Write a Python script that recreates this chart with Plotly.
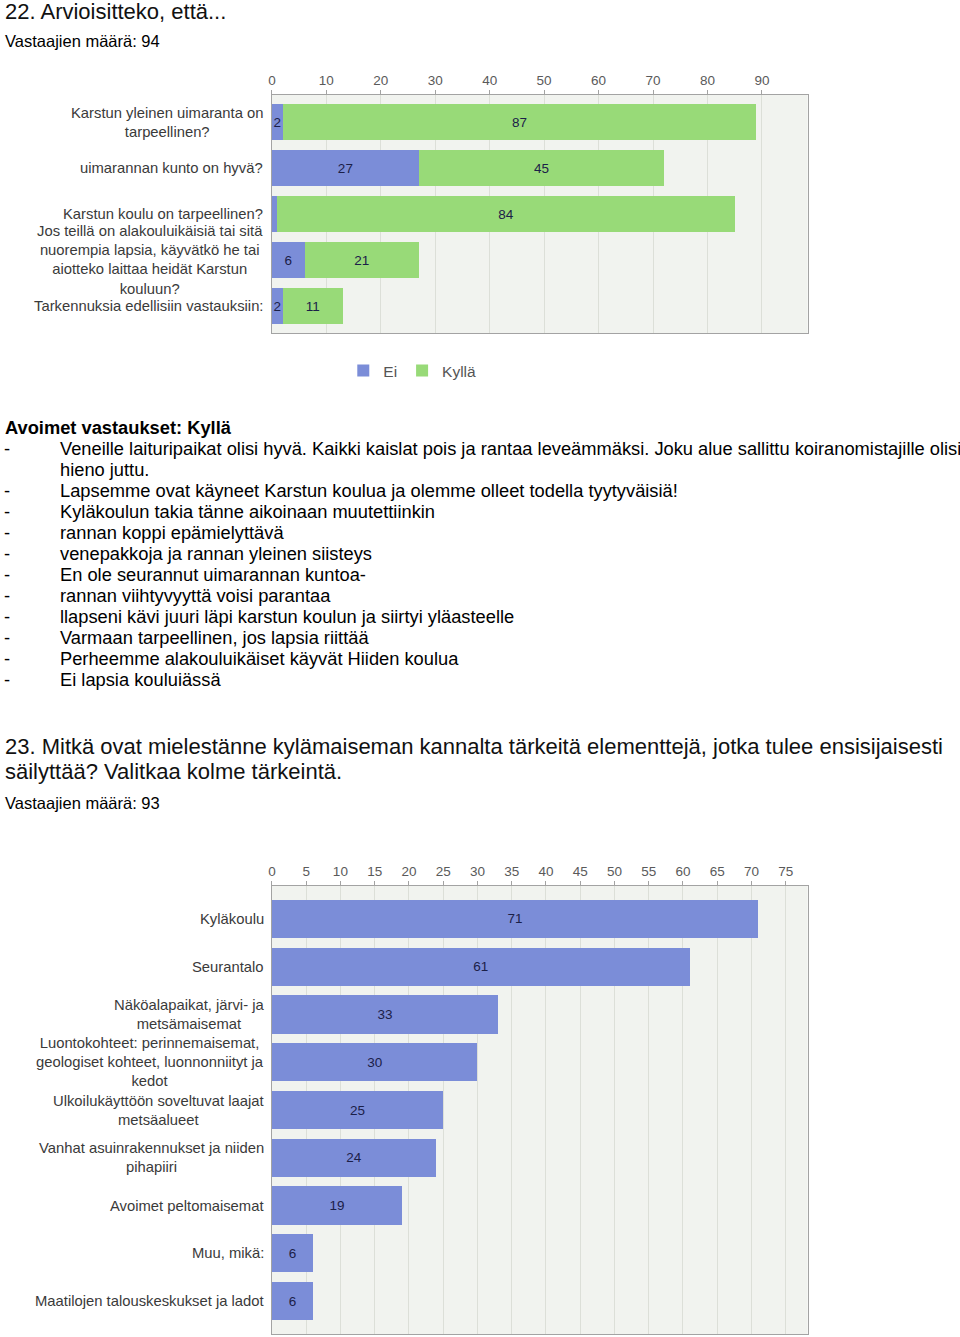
import plotly.graph_objects as go

W, H = 960, 1337
FONT = "Liberation Sans"

# ---------------- Data: question 22 ----------------
q22_title = "22. Arvioisitteko, että..."
q22_respondents = "Vastaajien määrä: 94"
q22_categories = [
    "Karstun yleinen uimaranta on<br>tarpeellinen?",
    "uimarannan kunto on hyvä?",
    "Karstun koulu on tarpeellinen?",
    "Jos teillä on alakouluikäisiä tai sitä<br>nuorempia lapsia, käyvätkö he tai<br>aiotteko laittaa heidät Karstun<br>kouluun?",
    "Tarkennuksia edellisiin vastauksiin:",
]
q22_ei = [2, 27, 1, 6, 2]
q22_kylla = [87, 45, 84, 21, 11]
q22_ticks = [0, 10, 20, 30, 40, 50, 60, 70, 80, 90]
q22_series_names = ["Ei", "Kyllä"]

open_header = "Avoimet vastaukset: Kyllä"
open_answers = [
    "Veneille laituripaikat olisi hyvä. Kaikki kaislat pois ja rantaa leveämmäksi. Joku alue sallittu koiranomistajille olisi",
    "hieno juttu.",
    "Lapsemme ovat käyneet Karstun koulua ja olemme olleet todella tyytyväisiä!",
    "Kyläkoulun takia tänne aikoinaan muutettiinkin",
    "rannan koppi epämielyttävä",
    "venepakkoja ja rannan yleinen siisteys",
    "En ole seurannut uimarannan kuntoa-",
    "rannan viihtyvyyttä voisi parantaa",
    "llapseni kävi juuri läpi karstun koulun ja siirtyi yläasteelle",
    "Varmaan tarpeellinen, jos lapsia riittää",
    "Perheemme alakouluikäiset käyvät Hiiden koulua",
    "Ei lapsia kouluiässä",
]
open_bullets = [True, False, True, True, True, True, True, True, True, True, True, True]

# ---------------- Data: question 23 ----------------
q23_title_lines = [
    "23. Mitkä ovat mielestänne kylämaiseman kannalta tärkeitä elementtejä, jotka tulee ensisijaisesti",
    "säilyttää? Valitkaa kolme tärkeintä.",
]
q23_respondents = "Vastaajien määrä: 93"
q23_categories = [
    "Kyläkoulu",
    "Seurantalo",
    "Näköalapaikat, järvi- ja<br>metsämaisemat",
    "Luontokohteet: perinnemaisemat,<br>geologiset kohteet, luonnonniityt ja<br>kedot",
    "Ulkoilukäyttöön soveltuvat laajat<br>metsäalueet",
    "Vanhat asuinrakennukset ja niiden<br>pihapiiri",
    "Avoimet peltomaisemat",
    "Muu, mikä:",
    "Maatilojen talouskeskukset ja ladot",
]
q23_values = [71, 61, 33, 30, 25, 24, 19, 6, 6]
q23_ticks = [0, 5, 10, 15, 20, 25, 30, 35, 40, 45, 50, 55, 60, 65, 70, 75]

BLUE = "#7b8dd8"
GREEN = "#98da78"
BAR_TEXT = "#1b2048"
LABEL_SIZE = 14.8


def py(ypx):
    return 1 - ypx / H


def px(xpx):
    return xpx / W


def bar_labels(vals):
    return [str(v) if v > 1 else "" for v in vals]


fig = go.Figure()

fig.add_trace(go.Bar(
    y=q22_categories, x=q22_ei, name=q22_series_names[0], orientation="h",
    marker=dict(color=BLUE, line=dict(width=0)),
    text=bar_labels(q22_ei), textposition="inside", insidetextanchor="middle",
    textangle=0, constraintext="none",
    textfont=dict(family=FONT, size=13.5, color=BAR_TEXT),
    xaxis="x", yaxis="y", hoverinfo="skip",
))
fig.add_trace(go.Bar(
    y=q22_categories, x=q22_kylla, name=q22_series_names[1], orientation="h",
    marker=dict(color=GREEN, line=dict(width=0)),
    text=bar_labels(q22_kylla), textposition="inside", insidetextanchor="middle",
    textangle=0, constraintext="none",
    textfont=dict(family=FONT, size=13.5, color=BAR_TEXT),
    xaxis="x", yaxis="y", hoverinfo="skip",
))
fig.add_trace(go.Bar(
    y=q23_categories, x=q23_values, name="", orientation="h", showlegend=False,
    marker=dict(color=BLUE, line=dict(width=0)),
    text=bar_labels(q23_values), textposition="inside", insidetextanchor="middle",
    textangle=0, constraintext="none",
    textfont=dict(family=FONT, size=13.5, color=BAR_TEXT),
    xaxis="x2", yaxis="y2", hoverinfo="skip",
))

xdom = [px(269), px(807)]
common_x = dict(
    side="top", showgrid=True, gridcolor="#dcdfd8", gridwidth=1,
    showline=True, linecolor="#a3a3a3", linewidth=1, mirror=True,
    ticks="outside", ticklen=4, tickcolor="#a3a3a3",
    tickfont=dict(family=FONT, size=13.5, color="#5a5a5a"),
    zeroline=False, fixedrange=True, domain=xdom,
)
common_y = dict(
    type="category", autorange=False, showgrid=False, showticklabels=False,
    ticks="", showline=True, linecolor="#a3a3a3", linewidth=1, mirror=True,
    zeroline=False, fixedrange=True,
)

fig.update_layout(
    width=W, height=H, autosize=False,
    margin=dict(l=0, r=0, t=0, b=0, pad=0),
    paper_bgcolor="white", plot_bgcolor="#f1f3ef",
    barmode="stack", bargap=0.2,
    font=dict(family=FONT, color="#333333"),
    xaxis=dict(common_x, anchor="y", range=[0, 98.4], tickvals=q22_ticks),
    yaxis=dict(common_y, anchor="x", domain=[py(333), py(95)],
               categoryarray=q22_categories, range=[4.587, -0.587]),
    xaxis2=dict(common_x, anchor="y2", range=[0, 78.2], tickvals=q23_ticks),
    yaxis2=dict(common_y, anchor="x2", domain=[py(1334), py(886)],
                categoryarray=q23_categories, range=[8.69, -0.69]),
    legend=dict(orientation="h", traceorder="normal",
                x=px(410), xanchor="center", y=py(371), yanchor="middle",
                font=dict(family=FONT, size=15.5, color="#555555"),
                itemwidth=30, tracegroupgap=0, bgcolor="rgba(0,0,0,0)"),
    showlegend=True,
)

annotations = []

# category labels (centre aligned lines, right anchored box)
for i, c in enumerate(q22_categories):
    annotations.append(dict(xref="paper", yref="y", x=px(262), y=i, text=c, showarrow=False,
                            xanchor="right", yanchor="middle", align="center",
                            font=dict(family=FONT, size=LABEL_SIZE, color="#3a3a3a")))
for i, c in enumerate(q23_categories):
    annotations.append(dict(xref="paper", yref="y2", x=px(263), y=i, text=c, showarrow=False,
                            xanchor="right", yanchor="middle", align="center",
                            font=dict(family=FONT, size=LABEL_SIZE, color="#3a3a3a")))


def doc_text(x, y, text, size, bold=False, color="#000000"):
    t = f"<b>{text}</b>" if bold else text
    annotations.append(dict(xref="paper", yref="paper", x=px(x), y=py(y), text=t,
                            showarrow=False, xanchor="left", yanchor="middle", align="left",
                            font=dict(family=FONT, size=size, color=color)))


doc_text(-1, 12, q22_title, 22, color="#111111")
doc_text(-1, 41, q22_respondents, 16.5)
doc_text(-1, 427, open_header, 18.3, bold=True)
for k, (line, bullet) in enumerate(zip(open_answers, open_bullets)):
    yy = 448 + 21 * k
    if bullet:
        doc_text(-2, yy, "-", 18.3)
    doc_text(54, yy, line, 18.3)
doc_text(-1, 746, q23_title_lines[0], 22, color="#111111")
doc_text(-1, 771, q23_title_lines[1], 22, color="#111111")
doc_text(-1, 803, q23_respondents, 16.5)

fig.update_layout(annotations=annotations)

fig.write_html("out.html")
